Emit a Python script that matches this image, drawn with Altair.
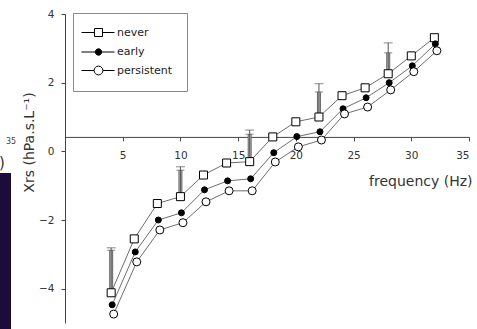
import altair as alt
import pandas as pd

# Reactance (Xrs) versus oscillation frequency for three wheeze groups
freq = [4, 6, 8, 10, 12, 14, 16, 18, 20, 22, 24, 26, 28, 30, 32]
never = [-4.12, -2.55, -1.52, -1.32, -0.69, -0.34, -0.30, 0.42, 0.86, 1.00, 1.62, 1.85, 2.26, 2.78, 3.31]
early = [-4.47, -2.93, -2.00, -1.79, -1.12, -0.86, -0.80, -0.04, 0.43, 0.57, 1.24, 1.56, 2.00, 2.49, 3.13]
persistent = [-4.74, -3.22, -2.29, -2.08, -1.47, -1.15, -1.15, -0.31, 0.13, 0.33, 1.09, 1.29, 1.79, 2.32, 2.93]

# Error bars drawn above the "never" group at selected frequencies
err_freq = [4, 10, 16, 22, 28]
err_high = [-2.81, -0.45, 0.62, 1.97, 3.16]
err_mid = [-2.88, -0.55, 0.50, 1.73, 2.87]

groups = ["never", "early", "persistent"]
x_ticks = [5, 10, 15, 20, 25, 30, 35]
y_ticks = [-4, -2, 0, 2, 4]

X_DOMAIN = [0, 35]
Y_DOMAIN = [-5, 4]
X_CROSS = 0.42          # y value where the frequency axis crosses
W, H = 404, 309
FONT = "DejaVu Sans"
INK = "#333333"

series = {"never": never, "early": early, "persistent": persistent}
rows = []
for g in groups:
    for f, v in zip(freq, series[g]):
        rows.append({"group": g, "freq": f, "xrs": v})
df = pd.DataFrame(rows)

base_vals = [never[freq.index(f)] for f in err_freq]
err_df = pd.DataFrame({"freq": err_freq, "base": base_vals, "high": err_high, "mid": err_mid})

axis_offset = -(X_CROSS - Y_DOMAIN[0]) / (Y_DOMAIN[1] - Y_DOMAIN[0]) * H

x_axis = alt.Axis(
    values=x_ticks, grid=False, offset=axis_offset,
    domainColor="#444444", tickColor="#444444", tickSize=4,
    labelFont=FONT, labelFontSize=10.5, labelColor=INK, labelPadding=10,
    title="frequency (Hz)", titleFont=FONT, titleFontSize=14, titleFontWeight="normal",
    titleColor=INK, titleAnchor="end", titleAlign="right", titleX=407, titlePadding=13,
)
y_axis = alt.Axis(
    values=y_ticks, grid=False,
    domainColor="#444444", tickColor="#444444", tickSize=4,
    labelFont=FONT, labelFontSize=10.5, labelColor=INK, labelPadding=7,
    title="Xrs (hPa.s.L⁻¹)", titleFont=FONT, titleFontSize=14, titleFontWeight="normal",
    titleColor=INK, titleX=-36, titleY=128, titleAlign="center", titleBaseline="middle",
)
xs = alt.Scale(domain=X_DOMAIN, nice=False, zero=False)
ys = alt.Scale(domain=Y_DOMAIN, nice=False, zero=False)

X = alt.X("freq:Q", scale=xs, axis=x_axis)

# error bars: thin whisker to the upper cap, thick grey bar to the lower cap
whisker = alt.Chart(err_df).mark_rule(color="#555555", strokeWidth=1).encode(
    x=X, y=alt.Y("base:Q", scale=ys, axis=y_axis), y2="high:Q")
bar_edge = alt.Chart(err_df).mark_rule(color="#666666", strokeWidth=4).encode(
    x=X, y=alt.Y("base:Q", scale=ys, axis=y_axis), y2="mid:Q")
bar_fill = alt.Chart(err_df).mark_rule(color="#bbbbbb", strokeWidth=2).encode(
    x=X, y=alt.Y("base:Q", scale=ys, axis=y_axis), y2="mid:Q")
cap_high = alt.Chart(err_df).mark_tick(orient="horizontal", size=9, thickness=1, color="#555555").encode(
    x=X, y=alt.Y("high:Q", scale=ys, axis=y_axis))
cap_mid = alt.Chart(err_df).mark_tick(orient="horizontal", size=8, thickness=1, color="#555555").encode(
    x=X, y=alt.Y("mid:Q", scale=ys, axis=y_axis))

styles = {
    "never": dict(shape="square", fill="white", size=64, dx=0),
    "early": dict(shape="circle", fill="black", size=36, dx=1),
    "persistent": dict(shape="circle", fill="white", size=64, dx=2.5),
}

layers = [bar_edge, bar_fill, whisker, cap_high, cap_mid]
for g in groups:
    s = styles[g]
    sub = alt.Chart(df).transform_filter(alt.datum.group == g)
    layers.append(sub.mark_line(color="#6e6e6e", strokeWidth=1, xOffset=s["dx"]).encode(
        x=X, y=alt.Y("xrs:Q", scale=ys, axis=y_axis)))
for g in groups:
    s = styles[g]
    sub = alt.Chart(df).transform_filter(alt.datum.group == g)
    layers.append(sub.mark_point(shape=s["shape"], size=s["size"], filled=True, fill=s["fill"],
                                 stroke="black", strokeWidth=1, opacity=1, xOffset=s["dx"]).encode(
        x=X, y=alt.Y("xrs:Q", scale=ys, axis=y_axis)))

# legend symbols: line segments with the group marker sitting on them
legend_paths = [
    "M-2.75,0L0.5,0M2.5,0L5.5,0M0.5,-1L2.5,-1L2.5,1L0.5,1Z",
    "M-2.75,0L0.7,0M2.3,0L5.5,0M0.7,0A0.8,0.8 0 1,1 2.3,0A0.8,0.8 0 1,1 0.7,0Z",
    "M-2.75,0L0.4,0M2.6,0L5.5,0M0.4,0A1.1,1.1 0 1,1 2.6,0A1.1,1.1 0 1,1 0.4,0Z",
]
legend = alt.Legend(
    title=None, orient="none", legendX=8, legendY=-1,
    labelFont=FONT, labelFontSize=11, labelColor="#222222", labelOffset=19,
    symbolSize=64, rowPadding=6.5, padding=14,
    strokeColor="#888888", fillColor="white",
    symbolStrokeColor="black", symbolStrokeWidth=1, symbolOpacity=1,
)
legend_layer = alt.Chart(df).transform_filter("false").mark_point(filled=True, size=64).encode(
    x=X, y=alt.Y("xrs:Q", scale=ys, axis=y_axis),
    shape=alt.Shape("group:N", scale=alt.Scale(domain=groups, range=legend_paths), legend=legend),
    fill=alt.Fill("group:N", scale=alt.Scale(domain=groups, range=["white", "black", "white"]), legend=legend),
    stroke=alt.Stroke("group:N", scale=alt.Scale(domain=groups, range=["black", "black", "black"]), legend=legend),
)
layers.append(legend_layer)

# edge of the neighbouring panel at the far left
strip = alt.Chart(pd.DataFrame({"k": [0]})).mark_rect(color="#1c0c3a").encode(
    x=alt.value(-65), x2=alt.value(-54), y=alt.value(159), y2=alt.value(315))
frag_a = alt.Chart(pd.DataFrame({"t": ["35"]})).mark_text(
    font=FONT, fontSize=8, color="#444444", align="left", baseline="middle").encode(
    text="t:N", x=alt.value(-59), y=alt.value(128))
frag_b = alt.Chart(pd.DataFrame({"t": [")"]})).mark_text(
    font=FONT, fontSize=15, color="#333333", align="left", baseline="middle").encode(
    text="t:N", x=alt.value(-66), y=alt.value(149))
layers += [strip, frag_a, frag_b]

chart = alt.layer(*layers).properties(
    width=W, height=H,
    autosize=alt.AutoSizeParams(type="none"),
    padding={"left": 65, "top": 14, "right": 8, "bottom": 6},
    background="white",
).configure_view(stroke=None)

chart.save("out.html", embed_options={"renderer": "svg", "actions": False})
